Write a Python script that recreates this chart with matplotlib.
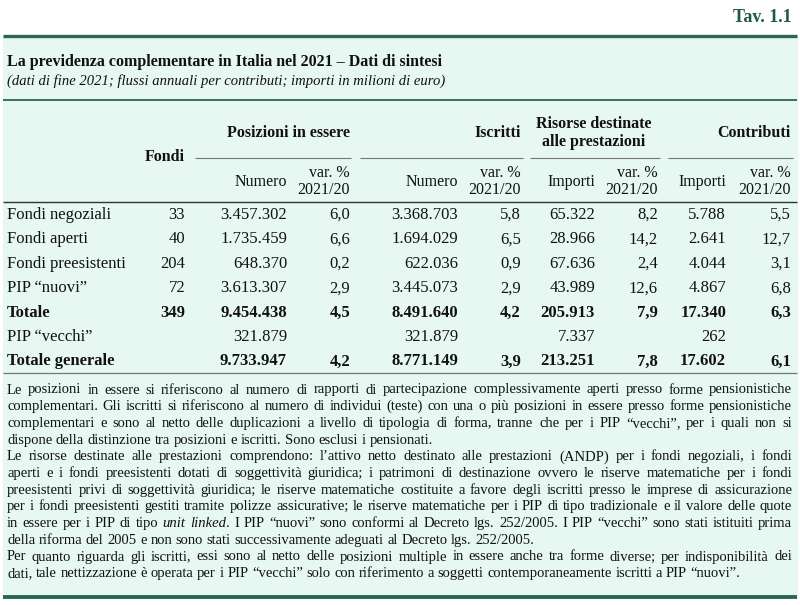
import matplotlib
matplotlib.use('Agg')
import matplotlib.pyplot as plt
from matplotlib.patches import Rectangle

plt.rcParams['font.family'] = ['Liberation Serif', 'DejaVu Serif']

# table data
row_labels = ['Fondi negoziali', 'Fondi aperti', 'Fondi preesistenti', 'PIP “nuovi”',
              'Totale', 'PIP “vecchi”', 'Totale generale']
bold_rows = [4, 6]
fondi = [33, 40, 204, 72, 349, None, None]
pos_num = [3457302, 1735459, 648370, 3613307, 9454438, 321879, 9733947]
pos_var = [6.0, 6.6, 0.2, 2.9, 4.5, None, 4.2]
isc_num = [3368703, 1694029, 622036, 3445073, 8491640, 321879, 8771149]
isc_var = [5.8, 6.5, 0.9, 2.9, 4.2, None, 3.9]
ris_imp = [65322, 28966, 67636, 43989, 205913, 7337, 213251]
ris_var = [8.2, 14.2, 2.4, 12.6, 7.9, None, 7.8]
con_imp = [5788, 2641, 4044, 4867, 17340, 262, 17602]
con_var = [5.5, 12.7, 3.1, 6.8, 6.3, None, 6.1]

tav_label = 'Tav. 1.1'
title = 'La previdenza complementare in Italia nel 2021 – Dati di sintesi'
subtitle = '(dati di fine 2021; flussi annuali per contributi; importi in milioni di euro)'
group_headers = ['Posizioni in essere', 'Iscritti', 'Risorse destinate\nalle prestazioni', 'Contributi']
sub_headers = ['Numero', 'Numero', 'Importi', 'Importi']

# (text, justified) - underscores mark italic words
notes_lines = [
    ("Le posizioni in essere si riferiscono al numero di rapporti di partecipazione complessivamente aperti presso forme pensionistiche", True),
    ("complementari. Gli iscritti si riferiscono al numero di individui (teste) con una o più posizioni in essere presso forme pensionistiche", True),
    ("complementari e sono al netto delle duplicazioni a livello di tipologia di forma, tranne che per i PIP “vecchi”, per i quali non si", True),
    ("dispone della distinzione tra posizioni e iscritti. Sono esclusi i pensionati.", False),
    ("Le risorse destinate alle prestazioni comprendono: l’attivo netto destinato alle prestazioni (ANDP) per i fondi negoziali, i fondi", True),
    ("aperti e i fondi preesistenti dotati di soggettività giuridica; i patrimoni di destinazione ovvero le riserve matematiche per i fondi", True),
    ("preesistenti privi di soggettività giuridica; le riserve matematiche costituite a favore degli iscritti presso le imprese di assicurazione", True),
    ("per i fondi preesistenti gestiti tramite polizze assicurative; le riserve matematiche per i PIP di tipo tradizionale e il valore delle quote", True),
    ("in essere per i PIP di tipo _unit_ _linked_. I PIP “nuovi” sono conformi al Decreto lgs. 252/2005. I PIP “vecchi” sono stati istituiti prima", True),
    ("della riforma del 2005 e non sono stati successivamente adeguati al Decreto lgs. 252/2005.", False),
    ("Per quanto riguarda gli iscritti, essi sono al netto delle posizioni multiple in essere anche tra forme diverse; per indisponibilità dei", True),
    ("dati, tale nettizzazione è operata per i PIP “vecchi” solo con riferimento a soggetti contemporaneamente iscritti a PIP “nuovi”.", False),
]

GREEN = '#2a6650'
DARK = '#1d5a43'
MINT = '#e7f7f1'
INK = '#111111'


def fmt_int(v):
    return '' if v is None else f'{v:,}'.replace(',', '.')


def fmt_pct(v):
    return '' if v is None else f'{v:.1f}'.replace('.', ',')


def text_width(ax, renderer, s, **kw):
    t = ax.text(0, 0, s, **kw)
    w = t.get_window_extent(renderer).width
    t.remove()
    return w


def split_token(tok):
    '''split a word into (text, style) pieces, _x_ means italic'''
    if tok.startswith('_') and tok.count('_') >= 2:
        end = tok.index('_', 1)
        segs = [(tok[1:end], 'italic')]
        if tok[end + 1:]:
            segs.append((tok[end + 1:], 'normal'))
        return segs
    return [(tok, 'normal')]


def draw_line(ax, renderer, line, y, x0, x1, size, justify):
    tokens = [split_token(t) for t in line.split(' ')]
    widths = []
    for segs in tokens:
        widths.append([text_width(ax, renderer, s, fontsize=size, style=st) for s, st in segs])
    space = text_width(ax, renderer, 'x x', fontsize=size) - text_width(ax, renderer, 'xx', fontsize=size)
    total = sum(sum(w) for w in widths)
    gap = (x1 - x0 - total) / (len(tokens) - 1) if justify else space
    x = x0
    for segs, ws in zip(tokens, widths):
        for (s, st), w in zip(segs, ws):
            ax.text(x, y, s, fontsize=size, style=st, color=INK, ha='left', va='center')
            x += w
        x += gap


def hline(ax, x0, x1, y, lw, color):
    ax.plot([x0, x1], [y, y], lw=lw, color=color, solid_capstyle='butt')


if __name__ == '__main__':

    fig = plt.figure(figsize=(8, 6.05), dpi=100)
    ax = fig.add_axes([0, 0, 1, 1])
    ax.set_xlim(0, 800)
    ax.set_ylim(605, 0)
    ax.axis('off')
    renderer = fig.canvas.get_renderer()

    # frame and rules
    ax.add_patch(Rectangle((3, 36), 794, 561, color=MINT, zorder=0))
    hline(ax, 3, 797, 36, 2.4, GREEN)
    hline(ax, 3, 797, 100, 1.3, GREEN)
    hline(ax, 3, 797, 202, 1.0, '#333333')
    hline(ax, 3, 797, 373, 0.9, '#777777')
    hline(ax, 3, 797, 597, 2.8, GREEN)

    ax.text(792, 17, tav_label, fontsize=13, weight='bold', color=DARK, ha='right', va='center')
    ax.text(7, 62, title, fontsize=11.5, weight='bold', color=INK, ha='left', va='center')
    ax.text(7, 81, subtitle, fontsize=10.5, style='italic', color=INK, ha='left', va='center')

    # header
    hsize = 11.5
    right_edges = [185, 287, 350, 458, 521, 595, 658, 726, 791]
    ax.text(185, 157, 'Fondi', fontsize=hsize, weight='bold', ha='right', va='center', color=INK)
    group_x = [350, 521, 594, 791]
    for i, g in enumerate(group_headers):
        if '\n' in g:
            ax.text(group_x[i], 133, g, fontsize=hsize, weight='bold', ha='center', va='center',
                    linespacing=1.1, color=INK)
        else:
            ax.text(group_x[i], 133, g, fontsize=hsize, weight='bold', ha='right', va='center', color=INK)
    for x0, x1 in [(195, 351), (360, 523), (530, 660), (668, 793)]:
        hline(ax, x0, x1, 158, 0.8, '#777777')
    for i, s in enumerate(sub_headers):
        ax.text(right_edges[1 + 2 * i], 182, s, fontsize=hsize, ha='right', va='center', color=INK)
        ax.text(right_edges[2 + 2 * i], 173, 'var. %', fontsize=hsize, ha='right', va='center', color=INK)
        ax.text(right_edges[2 + 2 * i], 190, '2021/20', fontsize=hsize, ha='right', va='center', color=INK)

    # rows
    columns = [
        [fmt_int(v) for v in fondi],
        [fmt_int(v) for v in pos_num], [fmt_pct(v) for v in pos_var],
        [fmt_int(v) for v in isc_num], [fmt_pct(v) for v in isc_var],
        [fmt_int(v) for v in ris_imp], [fmt_pct(v) for v in ris_var],
        [fmt_int(v) for v in con_imp], [fmt_pct(v) for v in con_var],
    ]
    dsize = 12
    for r, label in enumerate(row_labels):
        y = 215 + r * 24.4
        w = 'bold' if r in bold_rows else 'normal'
        ax.text(7, y, label, fontsize=dsize, weight=w, ha='left', va='center', color=INK)
        for c, col in enumerate(columns):
            ax.text(right_edges[c], y, col[r], fontsize=dsize, weight=w, ha='right', va='center', color=INK)

    # notes, justified like the printed table
    nsize = 10.5
    x0, x1 = 7, 792
    while max(text_width(ax, renderer, l.replace('_', ''), fontsize=nsize) for l, _ in notes_lines) > (x1 - x0) - 4:
        nsize -= 0.1
    for i, (line, just) in enumerate(notes_lines):
        draw_line(ax, renderer, line, 390 + i * 16.7, x0, x1, nsize, just)

    fig.savefig('out.png', dpi=100, facecolor='white')
